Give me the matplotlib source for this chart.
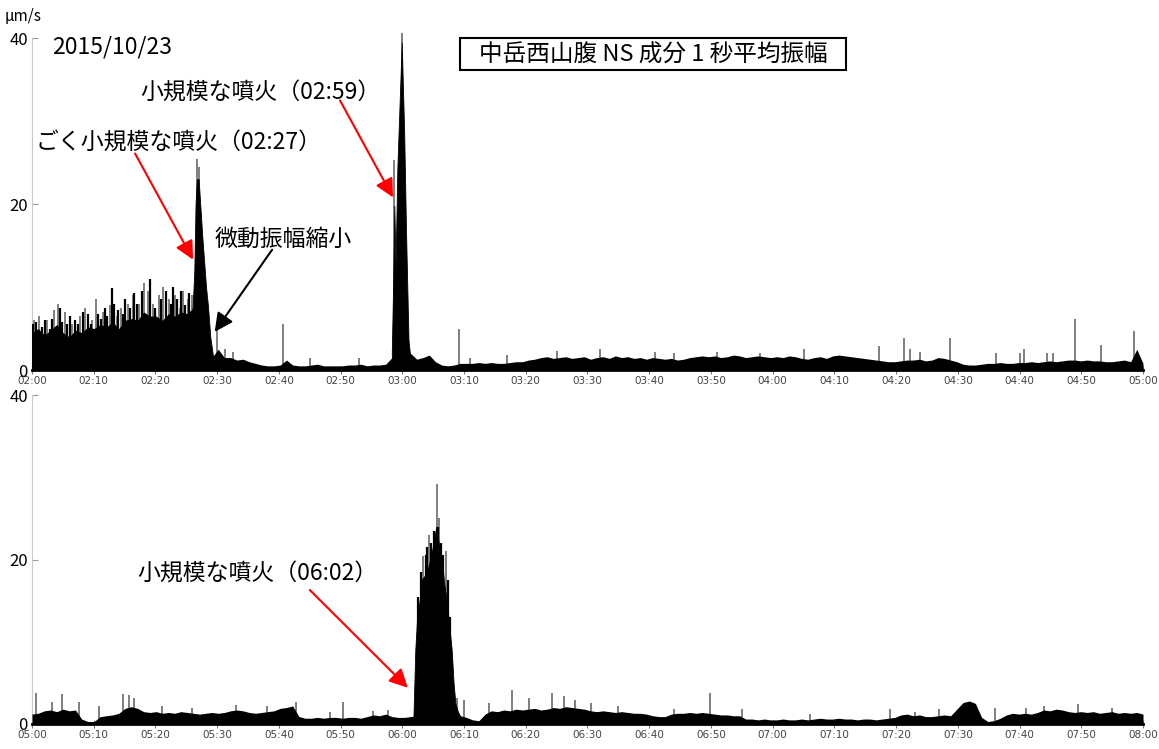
import numpy as np
import matplotlib.pyplot as plt
from matplotlib.patches import Rectangle

plt.rcParams['font.family'] = ['Noto Sans CJK JP', 'DejaVu Sans']

# --- top panel 02:00-05:00, 1-minute levels (um/s) ---
top_base = [
    4.5, 5.0, 4.2, 4.8, 5.5, 4.5, 4.0, 4.8, 4.5, 5.2,
    5.0, 5.5, 5.2, 5.8, 5.0, 6.0, 6.2, 6.0, 7.0, 6.5,
    6.5, 6.0, 6.8, 6.5, 7.0, 6.8, 7.5, 7.0, 5.0, 1.5,
    2.5, 1.5, 1.5, 1.2, 1.3, 1.0, 0.8, 0.6, 0.5, 0.5,
    0.6, 1.2, 0.6, 0.5, 0.5, 0.6, 0.7, 0.5, 0.5, 0.5,
    0.5, 0.6, 0.6, 0.7, 0.5, 0.6, 0.6, 0.7, 1.5, 2.0,
    2.0, 2.0, 1.3, 1.5, 1.8, 1.0, 0.6, 0.5, 0.6, 0.8,
    0.8, 0.8, 0.9, 0.8, 0.9, 0.8, 0.8, 0.9, 1.0, 1.0,
    1.2, 1.3, 1.5, 1.6, 1.4, 1.5, 1.6, 1.4, 1.5, 1.6,
    1.3, 1.5, 1.6, 1.4, 1.7, 1.5, 1.6, 1.4, 1.5, 1.3,
    1.5, 1.4, 1.3, 1.4, 1.2, 1.3, 1.5, 1.6, 1.7, 1.6,
    1.7, 1.5, 1.6, 1.8, 1.7, 1.5, 1.6, 1.7, 1.6, 1.5,
    1.6, 1.5, 1.7, 1.6, 1.4, 1.3, 1.5, 1.6, 1.4, 1.7,
    1.8, 1.7, 1.6, 1.5, 1.4, 1.3, 1.2, 1.1, 1.0, 1.0,
    1.1, 1.2, 1.2, 1.3, 1.1, 1.2, 1.5, 1.4, 1.2, 1.0,
    0.7, 0.6, 0.6, 0.7, 0.8, 0.8, 0.9, 0.8, 0.8, 0.9,
    0.9, 1.0, 0.9, 1.0, 1.1, 1.0, 1.1, 1.2, 1.2, 1.1,
    1.2, 1.1, 1.1, 1.0, 1.0, 1.1, 1.2, 1.0, 2.5, 0.8,
]
# eruptions at 02:27 and 02:59 (minutes after 02:00)
top_burst1_t = [26.0, 26.3, 26.5, 26.7, 27.0, 27.3, 27.6, 27.9, 28.2, 28.5, 28.9, 29.3]
top_burst1_v = [7.0, 12.0, 20.0, 23.0, 23.0, 19.5, 16.0, 13.0, 10.0, 7.8, 3.9, 1.8]
top_burst2_t = [58.3, 58.5, 58.7, 58.9, 59.2, 59.6, 59.9, 60.3, 60.6, 61.0, 61.3]
top_burst2_v = [2.4, 9.9, 19.8, 12.6, 24.5, 33.0, 39.5, 28.6, 16.7, 3.6, 1.5]
# dense tremor peaks before 02:27
top_tremor_t = [0.1, 0.7, 1.6, 2.1, 2.9, 3.3, 4.6, 4.9, 5.7, 6.1, 7.0, 7.4, 8.2, 9.1,
                9.5, 10.7, 11.1, 11.9, 12.2, 13.0, 13.3, 14.0, 14.8, 15.1, 15.9,
                16.6, 17.0, 17.8, 19.2, 20.0, 20.9, 21.7, 22.6, 22.9, 23.5, 24.2,
                24.8, 25.5]
top_tremor_v = [5.5, 5.8, 5.2, 6.0, 5.0, 6.2, 7.5, 5.8, 5.6, 6.5, 6.0, 5.5, 7.0, 6.8,
                5.5, 6.8, 6.2, 7.5, 6.5, 9.9, 8.0, 7.2, 6.8, 8.5, 7.5,
                9.3, 8.0, 9.5, 11.0, 7.5, 8.5, 9.5, 8.0, 10.0, 8.5, 9.5,
                7.8, 9.3]
top_spike_t = [0.3, 1.2, 2.5, 3.6, 4.2, 5.3, 6.5, 7.8, 8.6, 9.8, 10.3, 11.5, 12.6, 13.7,
               14.4, 15.5, 16.3, 17.4, 18.2, 18.8, 19.6, 20.5, 21.3, 22.2, 23.1, 23.9,
               24.5, 25.2, 25.9, 26.7, 27.0, 30.0, 31.2, 32.5, 40.6, 45.0, 53.0, 58.7,
               59.9, 69.2, 71.0, 77.0, 85.0, 92.0, 101.0, 104.0, 111.0, 118.0, 125.0,
               137.3, 141.3, 142.3, 143.8, 148.8, 156.2, 160.0, 160.7, 164.5, 165.4,
               169.0, 173.2, 178.5]
top_spike_v = [6.0, 6.5, 6.0, 7.2, 8.0, 7.0, 5.5, 6.5, 7.5, 6.0, 8.5, 7.0, 7.8, 6.5,
               7.5, 8.0, 9.0, 8.0, 10.5, 9.5, 8.0, 9.0, 10.0, 8.5, 9.0, 7.5,
               9.5, 8.5, 9.0, 25.4, 24.5, 4.8, 2.5, 2.2, 5.5, 1.5, 1.5, 25.3,
               40.6, 4.9, 1.5, 1.8, 2.3, 2.5, 2.2, 2.0, 2.2, 2.0, 2.5,
               2.9, 3.9, 2.5, 2.2, 3.9, 2.0, 2.0, 2.5, 2.0, 2.0,
               6.1, 3.0, 4.7]

# --- bottom panel 05:00-08:00 ---
bot_base = [
    1.2, 1.3, 1.6, 1.7, 1.5, 1.8, 1.6, 1.7, 0.6, 0.3,
    0.3, 0.9, 1.0, 1.1, 1.3, 1.9, 2.1, 1.9, 1.5, 1.4,
    1.5, 1.3, 1.4, 1.3, 1.5, 1.4, 1.3, 1.2, 1.3, 1.4,
    1.3, 1.4, 1.6, 1.7, 1.6, 1.4, 1.3, 1.4, 1.5, 1.6,
    1.9, 2.0, 2.2, 0.9, 0.7, 0.7, 0.8, 0.7, 0.8, 0.8,
    0.7, 0.8, 0.8, 0.7, 0.9, 1.1, 1.0, 1.2, 0.9, 0.8,
    0.8, 0.9, 1.0, 1.0, 1.0, 1.0, 1.0, 1.0, 1.0, 1.0,
    0.8, 0.5, 0.4, 1.2, 1.6, 1.5, 1.7, 1.6, 1.8, 1.7,
    1.8, 1.9, 1.7, 1.8, 2.0, 1.9, 2.1, 2.0, 1.9, 1.8,
    1.6, 1.5, 1.6, 1.5, 1.4, 1.5, 1.4, 1.3, 1.3, 1.2,
    1.0, 0.9, 0.9, 1.2, 1.3, 1.3, 1.4, 1.3, 1.4, 1.3,
    1.2, 1.1, 1.1, 1.0, 1.0, 0.6, 0.6, 0.5, 0.6, 0.5,
    0.5, 0.6, 0.5, 0.5, 0.6, 0.5, 0.6, 0.7, 0.6, 0.6,
    0.7, 0.6, 0.6, 0.5, 0.6, 0.6, 0.5, 0.6, 0.7, 0.8,
    1.1, 1.2, 1.0, 1.1, 0.9, 0.9, 1.0, 1.1, 1.0, 1.8,
    2.6, 2.8, 2.5, 0.8, 0.3, 0.4, 0.7, 1.1, 1.3, 1.2,
    1.3, 1.2, 1.4, 1.7, 1.6, 1.8, 1.7, 1.5, 1.4, 1.5,
    1.4, 1.5, 1.3, 1.4, 1.5, 1.3, 1.4, 1.3, 1.4, 1.2,
]
# eruption at 06:02 (minutes after 05:00)
bot_burst_t = [61.8, 62.1, 62.4, 62.8, 63.1, 63.6, 64.2, 64.8, 65.5, 65.9, 66.4,
               66.8, 67.2, 67.6, 68.0, 68.3, 68.6, 69.0, 69.4]
bot_burst_v = [0.8, 9.0, 13.0, 15.0, 17.5, 18.0, 19.0, 21.0, 24.0, 22.0, 20.0,
               17.0, 15.0, 12.0, 9.0, 5.0, 2.5, 1.5, 0.9]
bot_tremor_t = [62.6, 63.0, 63.8, 64.0, 64.6, 65.2, 65.8, 66.2, 66.6, 67.4, 67.8]
bot_tremor_v = [15.5, 18.5, 20.5, 21.5, 22.0, 23.5, 24.0, 22.0, 20.5, 17.5, 13.0]
bot_spike_t = [0.6, 3.3, 4.8, 7.6, 10.9, 14.8, 15.7, 16.6, 21.0, 26.0, 33.0, 38.0,
               42.7, 48.3, 50.4, 55.2, 57.6, 62.7, 63.3, 64.4, 65.6, 66.0, 67.0,
               68.9, 70.0, 74.0, 77.8, 80.5, 84.3, 86.2, 88.0, 90.5, 95.0, 104.0,
               109.8, 115.0, 126.0, 139.0, 143.0, 147.0, 152.0, 156.0, 161.0, 164.0,
               169.5, 175.0]
bot_spike_v = [3.8, 2.7, 3.6, 2.7, 2.2, 3.6, 3.5, 3.1, 2.2, 2.0, 2.3, 2.2,
               2.7, 1.5, 2.7, 1.6, 1.7, 14.0, 20.4, 23.0, 29.2, 25.0, 21.0,
               3.1, 2.9, 2.5, 4.1, 3.1, 3.8, 3.4, 2.9, 2.5, 2.2, 1.8,
               3.8, 1.8, 1.2, 1.8, 1.5, 1.8, 1.5, 2.0, 2.0, 2.2,
               2.4, 2.0]

top_labels = ['02:00', '02:10', '02:20', '02:30', '02:40', '02:50', '03:00', '03:10',
              '03:20', '03:30', '03:40', '03:50', '04:00', '04:10', '04:20', '04:30',
              '04:40', '04:50', '05:00']
bot_labels = ['05:00', '05:10', '05:20', '05:30', '05:40', '05:50', '06:00', '06:10',
              '06:20', '06:30', '06:40', '06:50', '07:00', '07:10', '07:20', '07:30',
              '07:40', '07:50', '08:00']


def draw_panel(ax, base, bursts, tremor, spike_t, spike_v, labels):
    x = np.linspace(0, 180, len(base))
    ax.vlines(spike_t, 0, spike_v, color='#6a6a6a', lw=1.2, clip_on=False, zorder=2)
    ax.vlines(tremor[0], 0, tremor[1], color='black', lw=1.6, zorder=3)
    ax.fill_between(x, 0, base, color='black', lw=0, zorder=3)
    for bt, bv in bursts:
        ax.fill_between(bt, 0, bv, color='black', lw=0.6, edgecolor='black', zorder=3)
    ax.set_xlim(0, 180)
    ax.set_ylim(0, 40)
    ax.set_xticks(np.arange(0, 181, 10))
    ax.set_xticklabels(labels)
    ax.set_yticks([0, 20, 40])
    ax.tick_params(axis='x', direction='inout', length=6, color='#777777',
                   labelsize=7.5, labelcolor='#444444', pad=1)
    ax.tick_params(axis='y', direction='in', length=4, color='#999999',
                   labelsize=12, pad=3)
    for lab in ax.get_xticklabels():
        lab.set_family('DejaVu Sans')
    ax.spines['top'].set_visible(False)
    ax.spines['right'].set_visible(False)
    ax.spines['left'].set_color('#c8c8c8')
    ax.spines['left'].set_linewidth(0.8)
    ax.spines['bottom'].set_linewidth(2.0)
    ax.spines['bottom'].set_zorder(4)


fig = plt.figure(figsize=(11.59, 7.49), dpi=100)
ax1 = fig.add_axes([0.0276, 0.506, 0.9586, 0.443])
ax2 = fig.add_axes([0.0276, 0.0334, 0.9586, 0.4392])

draw_panel(ax1, top_base, [(top_burst1_t, top_burst1_v), (top_burst2_t, top_burst2_v)],
           (top_tremor_t, top_tremor_v), top_spike_t, top_spike_v, top_labels)
draw_panel(ax2, bot_base, [(bot_burst_t, bot_burst_v)], (bot_tremor_t, bot_tremor_v),
           bot_spike_t, bot_spike_v, bot_labels)

fig.text(0.004, 0.978, 'μm/s', fontsize=11, va='center', ha='left')

fs = 16.5
ax1.text(3.2, 38.9, '2015/10/23', fontsize=16.5, va='center', ha='left')
# title in a framed box
ax1.text(100.6, 37.95, '中岳西山腹 NS 成分 1 秒平均振幅', fontsize=17, va='center', ha='center')
fig.patches.append(Rectangle((460 / 1159, 1 - 70 / 749), 386 / 1159, 32 / 749,
                             transform=fig.transFigure, fill=False, ec='black', lw=1.5))

red_arrow = dict(arrowstyle='-|>', color='red', lw=1.5, mutation_scale=28, shrinkA=0, shrinkB=0)
black_arrow = dict(arrowstyle='-|>', color='black', lw=1.5, mutation_scale=28, shrinkA=0, shrinkB=0)

ax1.text(17.5, 33.4, '小規模な噴火（02:59）', fontsize=fs, va='center', ha='left')
ax1.annotate('', xy=(58.5, 20.8), xytext=(49.9, 32.5), arrowprops=red_arrow, zorder=5)

ax1.text(0.5, 27.3, 'ごく小規模な噴火（02:27）', fontsize=fs, va='center', ha='left')
ax1.annotate('', xy=(26.1, 13.3), xytext=(16.7, 26.1), arrowprops=red_arrow, zorder=5)

ax1.text(29.6, 15.7, '微動振幅縮小', fontsize=fs, va='center', ha='left')
ax1.annotate('', xy=(29.6, 4.6), xytext=(38.9, 14.5), arrowprops=black_arrow, zorder=5)

ax2.text(17.0, 18.2, '小規模な噴火（06:02）', fontsize=fs, va='center', ha='left')
ax2.annotate('', xy=(60.9, 4.4), xytext=(45.0, 16.3), arrowprops=red_arrow, zorder=5)

fig.savefig('out.png', dpi=100)
